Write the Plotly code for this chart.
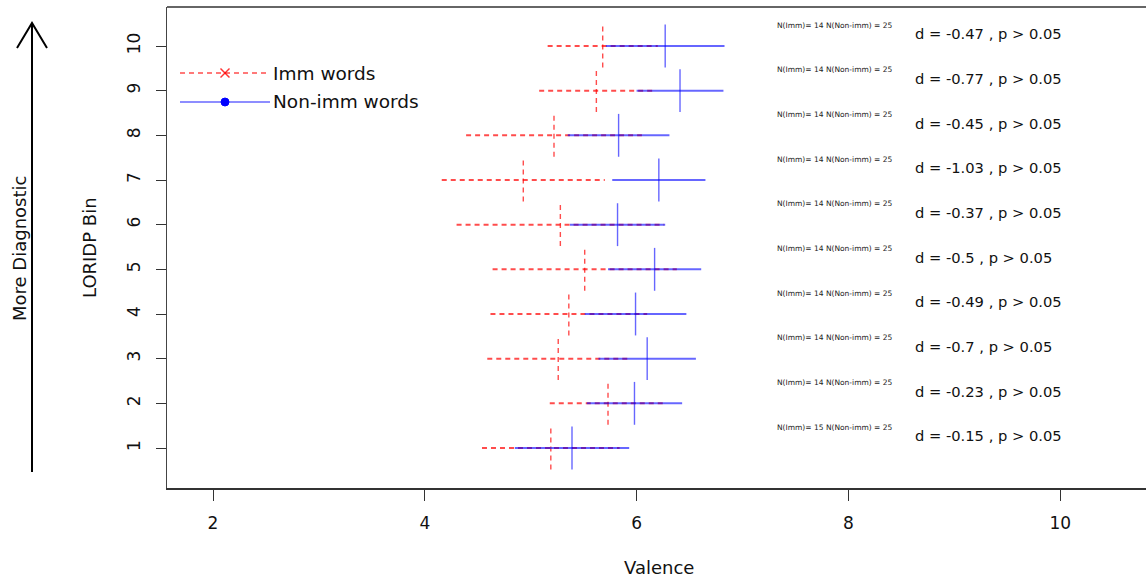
import plotly.graph_objects as go

# ---------------- data ----------------
bins = [1, 2, 3, 4, 5, 6, 7, 8, 9, 10]
imm_mean = [5.19, 5.73, 5.26, 5.36, 5.51, 5.28, 4.93, 5.22, 5.62, 5.68]
imm_half = [0.65, 0.55, 0.67, 0.74, 0.87, 0.98, 0.77, 0.83, 0.54, 0.52]
non_mean = [5.39, 5.98, 6.10, 5.99, 6.17, 5.82, 6.21, 5.83, 6.41, 6.27]
non_half = [0.54, 0.45, 0.46, 0.48, 0.44, 0.45, 0.44, 0.48, 0.41, 0.56]
d_vals = ["-0.15", "-0.23", "-0.7", "-0.49", "-0.5", "-0.37", "-1.03", "-0.45", "-0.77", "-0.47"]
n_imm = [15, 14, 14, 14, 14, 14, 14, 14, 14, 14]
n_non = [25, 25, 25, 25, 25, 25, 25, 25, 25, 25]
x_ticks = [2, 4, 6, 8, 10]

FONT = "DejaVu Sans"
W, H = 1146, 579
L, R, T, B = 167, 1146, 7, 488
VH = 0.48  # half height of vertical bars (style)

RED = "rgba(255,0,0,0.7)"
BLUE = "rgba(0,0,255,0.6)"


def px_x(px):
    return (px - L) / (R - L)


def px_y(py):
    return (B - py) / (B - T)


def cross_xy(means, halves):
    hx, hy, vx, vy = [], [], [], []
    for b, m, h in zip(bins, means, halves):
        hx += [m - h, m + h, None]
        hy += [b, b, None]
        vx += [m, m, None]
        vy += [b - VH, b + VH, None]
    return hx, hy, vx, vy


fig = go.Figure()

for means, halves, color, dash, name in [
    (imm_mean, imm_half, RED, "5px,4px", "Imm words"),
    (non_mean, non_half, BLUE, "solid", "Non-imm words"),
]:
    hx, hy, vx, vy = cross_xy(means, halves)
    fig.add_trace(go.Scatter(x=hx, y=hy, mode="lines", name=name, showlegend=False,
                             line=dict(color=color, width=2, dash=dash), hoverinfo="skip"))
    fig.add_trace(go.Scatter(x=vx, y=vy, mode="lines", name=name, showlegend=False,
                             line=dict(color=color, width=1.4, dash=dash), hoverinfo="skip"))

annotations = []
for b, d, ni, nn in zip(bins, d_vals, n_imm, n_non):
    annotations.append(dict(x=7.31, y=b + 0.47, xref="x", yref="y", xanchor="left", yanchor="middle",
                            text=f"N(Imm)= {ni} N(Non-imm) = {nn}", showarrow=False,
                            font=dict(family=FONT, size=7.5, color="#222")))
    annotations.append(dict(x=8.61, y=b + 0.27, xref="x", yref="y", xanchor="left", yanchor="middle",
                            text=f"d = {d} , p > 0.05", showarrow=False,
                            font=dict(family=FONT, size=14.7, color="#111")))

# axis titles & side label
annotations += [
    dict(x=px_x(659), y=px_y(567), xref="paper", yref="paper", text="Valence", showarrow=False,
         xanchor="center", yanchor="middle", font=dict(family=FONT, size=18, color="#111")),
    dict(x=px_x(89), y=px_y(248), xref="paper", yref="paper", text="LORIDP Bin", showarrow=False,
         textangle=-90, xanchor="center", yanchor="middle", font=dict(family=FONT, size=18, color="#111")),
    dict(x=px_x(20), y=px_y(249), xref="paper", yref="paper", text="More Diagnostic", showarrow=False,
         textangle=-90, xanchor="center", yanchor="middle", font=dict(family=FONT, size=18, color="#111")),
    dict(x=px_x(271), y=px_y(73), xref="paper", yref="paper", text="Imm words", showarrow=False,
         xanchor="left", yanchor="middle", font=dict(family=FONT, size=18.5, color="#111")),
    dict(x=px_x(271), y=px_y(102), xref="paper", yref="paper", text="Non-imm words", showarrow=False,
         xanchor="left", yanchor="middle", font=dict(family=FONT, size=18.5, color="#111")),
]

shapes = []
# top border
shapes.append(dict(type="line", xref="paper", yref="paper", x0=0, x1=1, y0=1, y1=1,
                   line=dict(color="#333", width=1.5)))
# arrow
path = (f"M {px_x(32)},{px_y(472)} L {px_x(32)},{px_y(23)} "
        f"M {px_x(17)},{px_y(48)} L {px_x(32)},{px_y(23)} L {px_x(47)},{px_y(48)}")
shapes.append(dict(type="path", xref="paper", yref="paper", path=path,
                   line=dict(color="#000", width=2)))
# legend samples
shapes.append(dict(type="line", xref="paper", yref="paper", x0=px_x(180), x1=px_x(270),
                   y0=px_y(73), y1=px_y(73), line=dict(color=RED, width=1.5, dash="5px,4px")))
shapes.append(dict(type="line", xref="paper", yref="paper", x0=px_x(220.5), x1=px_x(229.5),
                   y0=px_y(68.5), y1=px_y(77.5), line=dict(color="rgba(255,0,0,0.8)", width=1.5)))
shapes.append(dict(type="line", xref="paper", yref="paper", x0=px_x(220.5), x1=px_x(229.5),
                   y0=px_y(77.5), y1=px_y(68.5), line=dict(color="rgba(255,0,0,0.8)", width=1.5)))
shapes.append(dict(type="line", xref="paper", yref="paper", x0=px_x(180), x1=px_x(270),
                   y0=px_y(102), y1=px_y(102), line=dict(color=BLUE, width=1.5)))
shapes.append(dict(type="circle", xref="paper", yref="paper", x0=px_x(221), x1=px_x(229),
                   y0=px_y(106), y1=px_y(98), fillcolor="#0000ff", line=dict(color="#0000ff", width=1)))

xr0 = 2 - (213 - L) / 105.9
xr1 = 2 + (R - 213) / 105.9
yr0 = 1 - (B - 448) / 44.67
yr1 = 10 + (46 - T) / 44.67

fig.update_layout(
    width=W, height=H,
    margin=dict(l=L, r=W - R, t=T, b=H - B),
    plot_bgcolor="white", paper_bgcolor="white",
    showlegend=False,
    xaxis=dict(range=[xr0, xr1], tickvals=x_ticks, ticktext=[str(v) for v in x_ticks],
               showgrid=False, zeroline=False, showline=True, linecolor="#333", linewidth=2,
               ticks="outside", ticklen=11, tickcolor="#333", tickwidth=1,
               ticklabelstandoff=8, tickfont=dict(family=FONT, size=17, color="#111")),
    yaxis=dict(range=[yr0, yr1], tickvals=bins, ticktext=[str(v) for v in bins],
               showgrid=False, zeroline=False, showline=True, linecolor="#444", linewidth=1.2,
               ticks="outside", ticklen=10, tickcolor="#333", tickwidth=1, tickangle=-90,
               ticklabelstandoff=9, tickfont=dict(family=FONT, size=17, color="#111")),
    annotations=annotations,
    shapes=shapes,
)

fig.write_html("out.html")
